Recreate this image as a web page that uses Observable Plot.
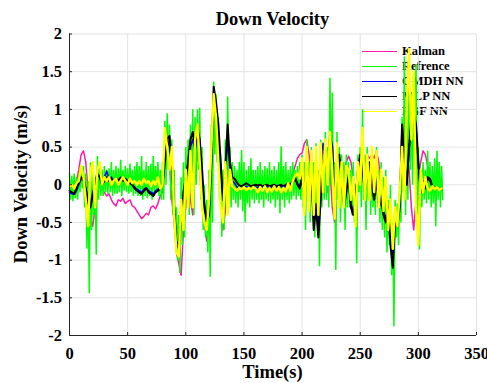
<!DOCTYPE html>
<html>
<head>
<meta charset="utf-8">
<script src="https://cdn.jsdelivr.net/npm/d3@7"></script>
<script src="https://cdn.jsdelivr.net/npm/@observablehq/plot@0.6"></script>
<style>
  html, body { margin: 0; padding: 0; background: #fff; overflow: hidden; }
  #wrap { position: relative; width: 487px; height: 383px; font-family: "Liberation Serif", "Times New Roman", serif; font-weight: bold; color: #000; }
  #chart { position: absolute; left: 0; top: 0; z-index: 2; }
  #chart svg { background: transparent; }
  .ttl { position: absolute; z-index: 3; white-space: nowrap; line-height: 1; }
  #legend { position: absolute; left: 362px; top: 44px; z-index: 1; font-size: 12.5px; }
  .lrow { height: 15px; display: flex; align-items: center; }
  .lline { display: inline-block; width: 35px; height: 0; border-top: 1px solid; margin-right: 5px; }
</style>
</head>
<body>
<div id="wrap">
  <div id="legend"></div>
  <div id="chart"></div>
  <div class="ttl" id="title" style="left:69px;width:407px;top:9.5px;text-align:center;font-size:18.5px;">Down Velocity</div>
  <div class="ttl" id="xlabel" style="left:69px;width:407px;top:362.7px;text-align:center;font-size:18.5px;">Time(s)</div>
  <div class="ttl" id="ylabel" style="left:-129.2px;top:174px;width:300px;height:20px;line-height:20px;text-align:center;font-size:18.5px;transform:rotate(-90deg);">Down Velocity (m/s)</div>
</div>
<script>
// sample times (s), every 2 s
const times = d3.range(0, 321, 2);

const xTicks = [0, 50, 100, 150, 200, 250, 300, 350];
const yTicks = [-2, -1.5, -1, -0.5, 0, 0.5, 1, 1.5, 2];

const seriesNames = ["Kalman", "Refrence", "GMDH NN", "MLP NN", "RBF NN"];
const seriesColors = ["#ff19a8", "#00ff00", "#0000ff", "#000000", "#ffff00"];

const kalman = [
 -0.05,-0.08,-0.05,0.05,0.2,0.4,0.45,0.3,-0.1,-0.45,
 -0.55,-0.3,-0.1,0.05,-0.05,-0.1,-0.15,-0.12,-0.2,-0.25,
 -0.28,-0.2,-0.22,-0.18,-0.25,-0.22,-0.2,-0.28,-0.3,-0.35,
 -0.4,-0.45,-0.42,-0.38,-0.4,-0.3,-0.28,-0.32,-0.25,-0.15,
 -0.1,0.2,0.5,0.3,-0.2,-0.5,-0.9,-1.05,-1.2,-0.6,
 -0.3,0.1,-0.2,-0.4,0.2,0.4,0.2,-0.3,-0.5,-0.75,
 -0.55,0.2,1.0,1.1,0.6,-0.2,-0.6,-0.35,0.3,0.1,
 0.05,-0.02,-0.05,-0.04,-0.03,-0.02,0,0,-0.02,-0.01,
 0,-0.01,-0.02,0,-0.02,-0.01,-0.02,-0.01,0,-0.01,
 -0.02,0,-0.01,0.02,0.05,0.1,0.15,0.25,0.35,0.4,
 0.42,0.55,0.6,0.4,0.1,-0.3,0.1,-0.35,0.2,0.45,
 0.3,-0.1,0.2,-0.3,-0.5,0.1,0.3,-0.1,0.1,0.3,
 0.38,0.3,0.1,-0.3,0.2,0.4,0.35,0.3,0.4,0.35,
 0.4,0.35,0.45,0.3,-0.1,-0.2,-0.3,-0.4,-0.6,-0.8,
 -0.3,-0.4,-0.2,0.1,0.3,0.5,0.2,-0.3,-0.6,-0.2,
 0.1,0.3,0.45,0.4,0.25,0.1,0.0,-0.02,-0.05,-0.05,
 -0.05
];

// Reference: upper and lower excursions of the noisy signal
const refHi = [
 0.15,0.12,0.15,0.1,0.15,0.2,0.25,0.15,0.05,0.3,
 0.2,0.1,0.38,0.3,0.2,0.25,0.2,0.22,0.3,0.2,
 0.25,0.22,0.33,0.2,0.25,0.22,0.28,0.2,0.25,0.3,
 0.25,0.38,0.2,0.3,0.25,0.28,0.38,0.25,0.3,0.2,
 0.3,0.85,0.95,0.8,0.6,0.2,-0.3,-0.4,0.1,0.3,
 0.5,0.6,0.8,1.0,0.9,1.0,1.02,0.5,0.0,-0.2,
 0.2,0.8,1.37,1.2,0.9,0.4,0.2,0.6,1.17,0.5,
 0.3,0.25,0.2,0.3,0.46,0.3,0.2,0.25,0.35,0.2,
 0.2,0.25,0.3,0.2,0.25,0.22,0.3,0.2,0.25,0.2,
 0.3,0.51,0.25,0.3,0.2,0.25,0.3,0.2,0.25,0.3,
 0.4,0.3,0.6,0.3,0.5,0.3,0.55,0.2,0.6,0.4,
 0.7,0.5,1.42,1.22,0.3,0.7,0.5,0.4,0.3,0.4,
 0.3,0.2,0.3,0.0,0.4,0.5,1.0,0.4,0.5,0.3,
 0.4,0.2,0.5,0.2,0.3,0.1,0.2,-0.2,0.0,-0.5,
 -0.2,-0.25,0.1,0.9,1.7,1.0,1.5,1.2,1.3,1.6,
 0.5,0.2,0.3,0.2,0.45,0.3,0.25,0.35,0.45,0.3,
 0.25
];
const refLo = [
 -0.2,-0.22,-0.18,-0.2,-0.1,-0.05,-0.3,-0.85,-1.44,-0.6,
 -0.4,-0.93,-0.2,-0.15,-0.15,-0.1,-0.12,-0.1,-0.15,-0.12,
 -0.12,-0.1,-0.15,-0.08,-0.1,-0.12,-0.1,-0.15,-0.12,-0.15,
 -0.15,-0.2,-0.15,-0.18,-0.15,-0.2,-0.15,-0.1,-0.15,-0.2,
 -0.2,0.0,0.2,-0.2,-0.4,-0.7,-1.0,-1.17,-0.8,-0.7,
 -0.2,-0.4,-0.1,-0.4,0.0,0.2,-0.2,-0.6,-0.7,-0.9,
 -1.22,-0.5,0.4,0.3,-0.2,-0.69,-0.6,-0.3,0.0,-0.3,
 -0.2,-0.25,-0.3,-0.2,-0.35,-0.5,-0.25,-0.3,-0.2,-0.25,
 -0.2,-0.25,-0.2,-0.3,-0.2,-0.22,-0.25,-0.2,-0.3,-0.2,
 -0.38,-0.2,-0.3,-0.2,-0.25,-0.2,-0.15,-0.2,-0.15,-0.2,
 -0.3,-0.6,0.0,-0.5,-0.1,-0.7,-0.4,-1.08,-0.3,-0.2,
 -0.2,-0.3,0.0,-0.3,-1.13,-0.2,-0.5,-0.2,-0.6,-0.3,
 -0.3,-0.4,-0.5,-1.04,-0.1,-0.3,-0.2,-0.6,-0.2,-0.4,
 -0.3,-0.4,-0.2,-0.5,-0.6,-0.7,-0.9,-0.8,-1.2,-1.88,
 -0.7,-0.8,-0.5,-0.1,-0.4,-0.2,0.2,0.0,0.3,-0.4,
 -0.86,-0.3,-0.2,-0.25,-0.2,-0.3,-0.25,-0.55,-0.2,-0.3,
 -0.2
];

const gmdh = [
 -0.1,-0.12,-0.13,-0.08,0.0,0.08,0.05,-0.05,-0.2,-0.25,
 -0.1,0.0,0.2,0.25,0.05,0.1,0.18,0.08,0.1,0.05,
 0.08,0.06,0.1,0.05,0.07,0.04,0.03,0.0,-0.03,-0.06,
 -0.08,-0.1,-0.06,-0.04,-0.08,-0.1,-0.12,-0.08,-0.06,-0.04,
 0.0,0.35,0.62,0.5,0.2,-0.3,-0.75,-0.8,-0.4,-0.15,
 0.05,0.25,0.5,0.6,0.45,0.65,0.5,0.1,-0.25,-0.45,
 -0.35,0.3,1.2,1.0,0.7,0.2,-0.2,0.15,0.6,0.2,
 0.05,0.02,-0.03,-0.05,-0.04,-0.03,-0.02,-0.04,-0.05,-0.03,
 -0.03,-0.04,-0.02,-0.05,-0.03,-0.02,-0.04,-0.03,-0.02,-0.04,
 -0.03,-0.02,-0.04,-0.02,0.0,-0.02,0.03,0.08,0.02,-0.03,
 0.1,-0.15,0.25,-0.1,0.15,-0.5,-0.25,-0.55,0.0,0.55,
 0.4,0.1,0.6,0.45,-0.25,0.3,0.35,0.1,-0.2,-0.05,
 0.1,-0.25,-0.35,-0.2,0.2,0.35,0.2,-0.05,0.1,0.25,
 0.05,-0.15,0.1,-0.25,-0.15,-0.35,-0.45,-0.3,-0.7,-0.95,
 -0.45,-0.5,-0.25,0.8,0.3,0.0,0.45,0.85,0.9,0.75,
 0.25,-0.1,0.05,-0.03,0.08,0.05,-0.03,-0.06,-0.04,-0.07,
 -0.06
];

const mlp = [
 -0.08,-0.1,-0.12,-0.05,0.05,0.1,0.08,-0.05,-0.25,-0.3,
 -0.15,-0.05,0.15,0.1,0.0,0.05,0.1,0.05,0.08,0.05,
 0.07,0.05,0.09,0.06,0.08,0.05,0.02,0.0,-0.05,-0.08,
 -0.1,-0.12,-0.08,-0.05,-0.1,-0.12,-0.15,-0.1,-0.08,-0.05,
 0.0,0.3,0.6,0.65,0.3,-0.3,-0.8,-0.85,-0.4,-0.1,
 0.1,0.3,0.6,0.7,0.5,0.75,0.6,0.2,-0.3,-0.5,
 -0.4,0.3,1.3,1.1,0.8,0.3,-0.2,0.2,0.8,0.3,
 0.1,0.08,0.03,-0.01,-0.02,0.0,0.02,0.0,-0.02,-0.01,
 0.0,-0.01,0.0,-0.02,-0.01,0.0,-0.02,-0.01,0.0,-0.02,
 -0.01,0.0,-0.02,0.0,0.02,0.0,0.05,0.1,0.0,-0.05,
 0.1,-0.2,0.3,-0.1,0.2,-0.6,-0.3,-0.7,-0.2,0.2,
 0.4,0.1,0.65,0.5,-0.3,0.3,0.4,0.1,-0.3,-0.1,
 0.1,-0.3,-0.4,-0.2,0.2,0.4,0.2,-0.1,0.1,0.3,
 0.0,-0.2,0.1,-0.3,-0.2,-0.4,-0.5,-0.3,-0.8,-1.1,
 -0.5,-0.55,-0.3,0.8,0.3,0.0,0.5,0.85,0.95,0.8,
 0.3,-0.1,0.05,-0.05,0.1,0.08,-0.02,-0.05,-0.03,-0.06,
 -0.05
];

const rbf = [
 -0.02,0.0,-0.05,0.02,0.05,0.25,0.1,-0.2,-0.55,0.2,
 0.3,-0.3,0.2,0.3,0.0,0.1,0.05,0.1,0.0,0.05,
 0.08,0.0,0.05,0.1,0.05,0.0,0.08,0.02,0.05,0.0,
 0.05,0.0,0.08,0.02,0.05,-0.02,0.05,0.0,0.1,-0.05,
 0.0,0.75,0.5,0.2,0.5,-0.4,-0.9,-0.95,-0.2,-0.6,
 0.2,-0.3,0.45,-0.3,0.6,0.8,0.3,-0.3,-0.5,-0.6,
 -0.2,0.5,1.2,0.9,0.3,-0.3,-0.5,0.3,-0.4,0.2,
 -0.02,-0.05,-0.08,-0.04,-0.06,-0.03,-0.07,-0.04,-0.06,-0.03,
 -0.05,-0.1,-0.03,-0.08,-0.02,-0.1,-0.04,-0.09,-0.02,-0.08,
 -0.03,-0.1,-0.04,-0.09,0.02,-0.08,0.05,0.12,0.15,0.08,
 0.35,-0.4,0.5,-0.35,0.45,-0.4,0.5,-0.4,0.55,-0.1,
 0.6,0.0,0.7,0.2,-0.45,0.55,-0.3,0.3,-0.3,0.25,
 0.2,-0.2,0.1,-0.55,0.3,0.0,0.75,-0.2,0.4,-0.2,
 0.5,-0.1,0.45,-0.3,0.2,-0.35,0.1,-0.6,-0.2,-0.85,
 -0.3,-0.55,-0.1,0.5,-0.2,1.0,1.8,0.6,1.5,-0.3,
 -0.8,0.2,-0.1,0.1,-0.05,-0.08,-0.02,-0.06,-0.03,-0.07,
 -0.05
];

const toRows = vals => vals.map((v, i) => ({t: times[i], v}));
const refRows = times.flatMap((t, i) => [{t, v: refHi[i]}, {t: t + 1, v: refLo[i]}]);

const lineOpts = (color, w) => ({x: "t", y: "v", stroke: color, strokeWidth: w, strokeLinejoin: "round"});

const plot = Plot.plot({
  width: 487,
  height: 383,
  marginLeft: 69,
  marginRight: 11,
  marginTop: 33.5,
  marginBottom: 48,
  x: {domain: [0, 350]},
  y: {domain: [-2, 2]},
  style: {
    fontFamily: "'Liberation Serif', 'Times New Roman', serif",
    fontSize: "16.5px",
    fontWeight: "bold",
    background: "transparent",
    color: "#000",
    overflow: "visible"
  },
  marks: [
    Plot.gridX(xTicks, {stroke: "#e3e3e3", strokeOpacity: 1}),
    Plot.gridY(yTicks, {stroke: "#e3e3e3", strokeOpacity: 1}),
    Plot.line(toRows(kalman), lineOpts(seriesColors[0], 1.5)),
    Plot.line(refRows, {...lineOpts(seriesColors[1], 1.5), strokeLinejoin: "miter"}),
    Plot.line(toRows(gmdh), lineOpts(seriesColors[2], 1.6)),
    Plot.line(toRows(mlp), lineOpts(seriesColors[3], 2)),
    Plot.line(toRows(rbf), lineOpts(seriesColors[4], 2.4)),
    Plot.ruleX([0], {stroke: "#262626", strokeWidth: 1}),
    Plot.ruleY([-2], {stroke: "#262626", strokeWidth: 1}),
    Plot.axisX(xTicks, {tickSize: -3, tickPadding: 14.9, tickFormat: d => String(d), label: null, stroke: "#262626"}),
    Plot.axisY(yTicks, {tickSize: -3, tickPadding: 10.5, tickFormat: d => String(d), label: null, stroke: "#262626"})
  ]
});
document.getElementById("chart").appendChild(plot);

// legend
const legend = document.getElementById("legend");
seriesNames.forEach((name, i) => {
  const row = document.createElement("div");
  row.className = "lrow";
  const ln = document.createElement("span");
  ln.className = "lline";
  ln.style.borderTopColor = seriesColors[i];
  const tx = document.createElement("span");
  tx.textContent = name;
  row.appendChild(ln);
  row.appendChild(tx);
  legend.appendChild(row);
});
</script>
</body>
</html>
